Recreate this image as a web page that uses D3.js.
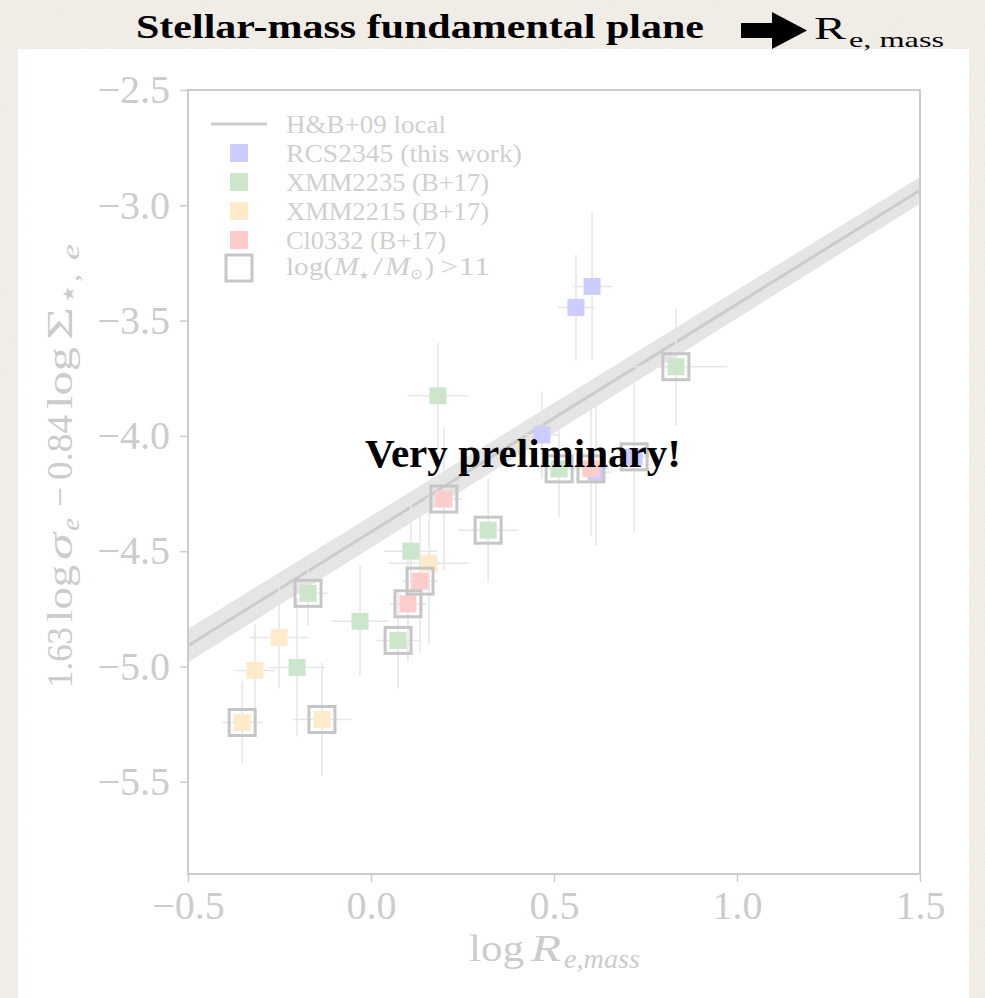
<!DOCTYPE html>
<html>
<head>
<meta charset="utf-8">
<script src="https://cdn.jsdelivr.net/npm/d3@7"></script>
<style>
  html, body { margin: 0; padding: 0; background: #f2eee7; }
  svg { display: block; }
</style>
</head>
<body>
<script>
// ---- data ---------------------------------------------------------------
// H&B+09 local relation (endpoints) and its half-width band
const relX = [-0.5, 1.5];
const relY = [-4.91, -2.935];
const relBand = [0.072, 0.058];

// RCS2345 (this work)
const rcsX    = [0.604, 0.560, 0.467, 0.615, 0.719];
const rcsY    = [-3.352, -3.443, -3.996, -4.157, -4.091];
const rcsXerr = [0.053, 0.051, 0.047, 0.040, 0.040];
const rcsYerr = [0.32, 0.23, 0.19, 0.32, 0.33];
const rcsMassive = [0, 0, 0, 0, 1];

// XMM2235 (B+17)
const xmm2235X    = [0.833, 0.183, 0.514, 0.320, 0.109, -0.172, -0.030, 0.074, -0.202];
const xmm2235Y    = [-3.700, -3.826, -4.143, -4.409, -4.500, -4.683, -4.804, -4.887, -5.004];
const xmm2235Xerr = [0.14, 0.083, 0.06, 0.083, 0.072, 0.055, 0.078, 0.06, 0.078];
const xmm2235Yerr = [0.255, 0.23, 0.21, 0.226, 0.20, 0.14, 0.24, 0.21, 0.30];
const xmm2235Massive = [1, 0, 1, 1, 0, 1, 0, 1, 0];

// XMM2215 (B+17)
const xmm2215X    = [0.159, -0.251, -0.317, -0.352, -0.134];
const xmm2215Y    = [-4.552, -4.874, -5.017, -5.243, -5.230];
const xmm2215Xerr = [0.11, 0.08, 0.055, 0.055, 0.08];
const xmm2215Yerr = [0.35, 0.22, 0.20, 0.18, 0.245];
const xmm2215Massive = [0, 0, 0, 1, 1];

// Cl0332 (B+17)
const clX    = [0.199, 0.134, 0.101, 0.601];
const clY    = [-4.274, -4.630, -4.728, -4.143];
const clXerr = [0.05, 0.05, 0.05, 0.05];
const clYerr = [0.31, 0.31, 0.25, 0.29];
const clMassive = [1, 1, 1, 1];

const seriesNames  = ["RCS2345 (this work)", "XMM2235 (B+17)", "XMM2215 (B+17)", "Cl0332 (B+17)"];
const seriesColors = ["#ccccff", "#cce6cc", "#ffebcc", "#ffcccc"];

const xTicks = [-0.5, 0.0, 0.5, 1.0, 1.5];
const yTicks = [-2.5, -3.0, -3.5, -4.0, -4.5, -5.0, -5.5];

// ---- layout -------------------------------------------------------------
const W = 985, H = 998;
const plot = { left: 188, right: 920, top: 90, bottom: 874 };
const grey = "#cccccc";
const legGrey = "#d0d0d0";
const serif = "'Liberation Serif', 'DejaVu Serif', serif";
const starFont = "'DejaVu Sans', sans-serif";

const svg = d3.select("body").append("svg")
  .attr("width", W).attr("height", H)
  .attr("xmlns", "http://www.w3.org/2000/svg");

const defs = svg.append("defs");
const grain = defs.append("filter").attr("id", "grain")
  .attr("x", 0).attr("y", 0).attr("width", "100%").attr("height", "100%");
grain.append("feTurbulence").attr("type", "fractalNoise")
  .attr("baseFrequency", 0.75).attr("numOctaves", 3).attr("seed", 7);
grain.append("feColorMatrix").attr("type", "matrix")
  .attr("values", "0 0 0 0 0.62  0 0 0 0 0.57  0 0 0 0 0.50  0.30 0 0 0 -0.09");
defs.append("clipPath").attr("id", "plotclip").append("rect")
  .attr("x", plot.left).attr("y", plot.top)
  .attr("width", plot.right - plot.left).attr("height", plot.bottom - plot.top);

// page background with parchment grain
svg.append("rect").attr("width", W).attr("height", H).attr("fill", "#f3efe9");
svg.append("rect").attr("width", W).attr("height", H).attr("filter", "url(#grain)");

// white figure panel
svg.append("rect").attr("x", 18).attr("y", 49).attr("width", 951).attr("height", H - 49)
  .attr("fill", "#ffffff");

// ---- slide heading ------------------------------------------------------
svg.append("text").attr("x", 136).attr("y", 38)
  .attr("font-family", serif).attr("font-weight", "bold").attr("font-size", 33)
  .attr("textLength", 568).attr("lengthAdjust", "spacingAndGlyphs")
  .attr("fill", "#000").text("Stellar-mass fundamental plane");

svg.append("path")
  .attr("d", "M741,23 L772,23 L772,12 L807,30.5 L772,49 L772,38 L741,38 Z")
  .attr("fill", "#000");

svg.append("text").attr("x", 814).attr("y", 39)
  .attr("font-family", serif).attr("font-size", 32)
  .attr("textLength", 32).attr("lengthAdjust", "spacingAndGlyphs")
  .attr("fill", "#000").text("R");
svg.append("text").attr("x", 849).attr("y", 47)
  .attr("font-family", serif).attr("font-size", 22)
  .attr("textLength", 95).attr("lengthAdjust", "spacingAndGlyphs")
  .attr("fill", "#000").text("e, mass");

// ---- scales & axes ------------------------------------------------------
const x = d3.scaleLinear().domain([-0.5, 1.5]).range([plot.left, plot.right]);
const y = d3.scaleLinear().domain([-2.5, -5.9]).range([plot.top, plot.bottom]);
const fmt = d3.format(".1f");

const gx = svg.append("g").attr("transform", `translate(0,${plot.bottom})`)
  .call(d3.axisBottom(x).tickValues(xTicks).tickFormat(fmt)
    .tickSize(8).tickSizeOuter(0).tickPadding(9));
const gy = svg.append("g").attr("transform", `translate(${plot.left},0)`)
  .call(d3.axisLeft(y).tickValues(yTicks).tickFormat(fmt)
    .tickSize(8).tickSizeOuter(0).tickPadding(10));
[gx, gy].forEach(g => {
  g.select(".domain").remove();
  g.selectAll(".tick line").attr("stroke", grey).attr("stroke-width", 1.5);
  g.selectAll(".tick text").attr("fill", grey)
    .attr("font-family", serif).attr("font-size", 40);
});

// ---- plot contents ------------------------------------------------------
const body = svg.append("g").attr("clip-path", "url(#plotclip)");

// relation band and line
const relPts = relX.map((v, i) => ({ x: v, y: relY[i], w: relBand[i] }));
body.append("path").datum(relPts)
  .attr("d", d3.area().x(d => x(d.x)).y0(d => y(d.y - d.w)).y1(d => y(d.y + d.w)))
  .attr("fill", "#e5e5e5");
body.append("path").datum(relPts)
  .attr("d", d3.line().x(d => x(d.x)).y(d => y(d.y)))
  .attr("fill", "none").attr("stroke", grey).attr("stroke-width", 3);

function pack(xs, ys, xe, ye, big, k) {
  return xs.map((v, i) => ({ x: v, y: ys[i], xe: xe[i], ye: ye[i], big: big[i], k }));
}
const series = [
  pack(rcsX, rcsY, rcsXerr, rcsYerr, rcsMassive, 0),
  pack(xmm2235X, xmm2235Y, xmm2235Xerr, xmm2235Yerr, xmm2235Massive, 1),
  pack(xmm2215X, xmm2215Y, xmm2215Xerr, xmm2215Yerr, xmm2215Massive, 2),
  pack(clX, clY, clXerr, clYerr, clMassive, 3)
];
const allPts = series.flat();

// error bars
const eb = body.append("g").attr("stroke", "#e6e6e6").attr("stroke-width", 1.5);
eb.selectAll("line.h").data(allPts).join("line").attr("class", "h")
  .attr("x1", d => x(d.x - d.xe)).attr("x2", d => x(d.x + d.xe))
  .attr("y1", d => y(d.y)).attr("y2", d => y(d.y));
eb.selectAll("line.v").data(allPts).join("line").attr("class", "v")
  .attr("x1", d => x(d.x)).attr("x2", d => x(d.x))
  .attr("y1", d => y(d.y - d.ye)).attr("y2", d => y(d.y + d.ye));

// square markers
const ms = 17;
body.append("g").selectAll("rect").data(allPts).join("rect")
  .attr("x", d => x(d.x) - ms / 2).attr("y", d => y(d.y) - ms / 2)
  .attr("width", ms).attr("height", ms)
  .attr("fill", d => seriesColors[d.k]);

// open boxes for the most massive galaxies
const bs = 26;
body.append("g").selectAll("rect").data(allPts.filter(d => d.big)).join("rect")
  .attr("x", d => x(d.x) - bs / 2).attr("y", d => y(d.y) - bs / 2)
  .attr("width", bs).attr("height", bs)
  .attr("fill", "none").attr("stroke", "#c6c6c6").attr("stroke-width", 3);

// frame
svg.append("rect").attr("x", plot.left).attr("y", plot.top)
  .attr("width", plot.right - plot.left).attr("height", plot.bottom - plot.top)
  .attr("fill", "none").attr("stroke", grey).attr("stroke-width", 2);

// ---- legend -------------------------------------------------------------
const leg = svg.append("g").attr("font-family", serif).attr("font-size", 25).attr("fill", legGrey);
const rowY = [124, 153, 182, 211, 240, 268];
const textX = 286, symX = 239;
leg.append("line").attr("x1", 211).attr("x2", 267).attr("y1", rowY[0]).attr("y2", rowY[0])
  .attr("stroke", grey).attr("stroke-width", 3);
leg.append("text").attr("x", textX).attr("y", rowY[0] + 9)
  .attr("textLength", 160).attr("lengthAdjust", "spacingAndGlyphs").text("H&B+09 local");
const legLen = [236, 203, 203, 160];
seriesNames.forEach((name, i) => {
  leg.append("rect").attr("x", symX - 9).attr("y", rowY[i + 1] - 9)
    .attr("width", 18).attr("height", 18).attr("fill", seriesColors[i]);
  leg.append("text").attr("x", textX).attr("y", rowY[i + 1] + 9)
    .attr("textLength", legLen[i]).attr("lengthAdjust", "spacingAndGlyphs").text(name);
});
leg.append("rect").attr("x", symX - 13).attr("y", rowY[5] - 13)
  .attr("width", 26).attr("height", 26)
  .attr("fill", "none").attr("stroke", "#c6c6c6").attr("stroke-width", 3);
// mass-cut label, laid out piece by piece
const massParts = [
  { t: "log(", at: 286, len: 47 },
  { t: "M", at: 334, len: 25, it: true },
  { t: "★", at: 359, len: 10, sub: true, star: true },
  { t: "/", at: 373, len: 10 },
  { t: "M", at: 385, len: 25, it: true },
  { t: "⊙", at: 410, len: 13, sub: true },
  { t: ")", at: 425, len: 9 },
  { t: ">11", at: 440, len: 50 }
];
massParts.forEach(p => {
  leg.append("text").attr("x", p.at).attr("y", rowY[5] + (p.sub ? 11 : 7))
    .attr("font-family", p.star ? starFont : null)
    .attr("font-size", p.star ? 11 : (p.sub ? 15 : 25))
    .attr("font-style", p.it ? "italic" : "normal")
    .attr("textLength", p.len).attr("lengthAdjust", "spacingAndGlyphs")
    .text(p.t);
});

// ---- axis titles --------------------------------------------------------
const xl = svg.append("g").attr("font-family", serif).attr("fill", grey);
xl.append("text").attr("x", 469).attr("y", 961).attr("font-size", 38)
  .attr("textLength", 55).attr("lengthAdjust", "spacingAndGlyphs").text("log");
xl.append("text").attr("x", 531).attr("y", 961).attr("font-size", 38)
  .attr("font-style", "italic").attr("textLength", 30).attr("lengthAdjust", "spacingAndGlyphs").text("R");
xl.append("text").attr("x", 564).attr("y", 968).attr("font-size", 27)
  .attr("font-style", "italic").attr("textLength", 76).attr("lengthAdjust", "spacingAndGlyphs").text("e,mass");

const yl = svg.append("g").attr("transform", "translate(72,688) rotate(-90)")
  .attr("font-family", serif).attr("fill", grey);
const ylParts = [
  { t: "1.63", at: 0, len: 61 },
  { t: "log", at: 66, len: 57 },
  { t: "σ", at: 128, len: 27, it: true },
  { t: "e", at: 157, len: 13, it: true, sub: true },
  { t: "−", at: 181, len: 20 },
  { t: "0.84", at: 208, len: 65 },
  { t: "log", at: 279, len: 62 },
  { t: "Σ", at: 348, len: 33 },
  { t: "★", at: 386, len: 16, sub: true, star: true },
  { t: ",", at: 406, len: 8, sub: true },
  { t: "e", at: 428, len: 16, it: true, sub: true }
];
ylParts.forEach(p => {
  yl.append("text").attr("x", p.at).attr("y", p.sub ? (p.star ? 2 : 7) : 0)
    .attr("font-family", p.star ? starFont : null)
    .attr("font-size", p.star ? 16 : (p.sub ? 25 : 36))
    .attr("font-style", p.it ? "italic" : "normal")
    .attr("textLength", p.len).attr("lengthAdjust", "spacingAndGlyphs")
    .text(p.t);
});

// ---- overlay note -------------------------------------------------------
svg.append("text").attr("x", 365).attr("y", 467)
  .attr("font-family", serif).attr("font-weight", "bold").attr("font-size", 40)
  .attr("textLength", 316).attr("lengthAdjust", "spacingAndGlyphs")
  .attr("fill", "#000").text("Very preliminary!");
</script>
</body>
</html>
